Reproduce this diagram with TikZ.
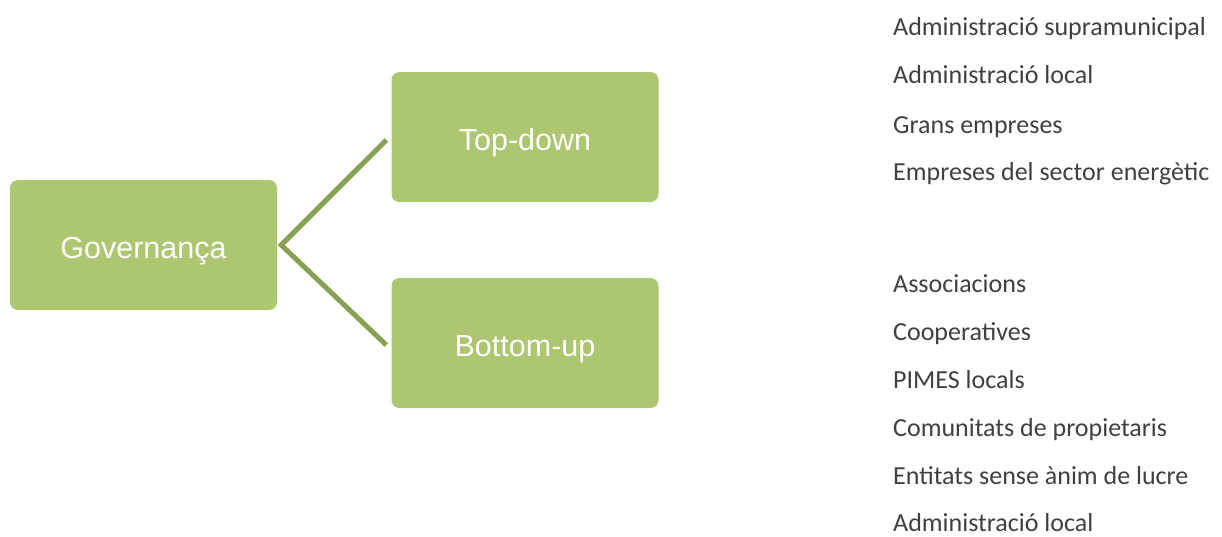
\documentclass[tikz,border=0pt]{standalone}
\usepackage{fontspec}
\setmainfont{Carlito}
\newfontfamily\boxfont{Liberation Sans}
\definecolor{boxgreen}{RGB}{173,198,112}
\definecolor{linegreen}{RGB}{136,160,84}
\definecolor{txtgray}{RGB}{64,64,64}
\newcommand{\boxtext}[1]{\raisebox{-6pt}[\height][\depth]{#1}}
\begin{document}
\begin{tikzpicture}[x=1pt,y=-1pt,
  gbox/.style={draw=none,fill=boxgreen,rounded corners=8pt,minimum width=267pt,minimum height=130pt,inner sep=0pt,text=white,font=\boxfont\fontsize{30.5}{36}\selectfont},
  conn/.style={draw=linegreen,line width=5pt,line join=miter},
  item/.style={anchor=base west,inner sep=0pt,text=txtgray,font=\fontsize{26}{30}\selectfont}]
\useasboundingbox (0,0) rectangle (1222,536);
\node[gbox] (g) at (143.5,245) {\boxtext{Governança}};
\node[gbox] (t) at (525,137) {\boxtext{Top-down}};
\node[gbox] (b) at (525,343) {\boxtext{Bottom-up}};
\draw[conn] ([xshift=-5pt,yshift=-3pt]t.west) -- ([xshift=4pt]g.east) -- ([xshift=-5pt,yshift=-2pt]b.west);
\node[item] (t1) at (893,35) {Administració supramunicipal};
\node[item] (t2) at (893,83) {Administració local};
\node[item] (t3) at (893,133) {Grans empreses};
\node[item] (t4) at (893,180) {Empreses del sector energètic};
\node[item] (b1) at (893,292) {Associacions};
\node[item] (b2) at (893,340) {Cooperatives};
\node[item] (b3) at (893,388) {PIMES locals};
\node[item] (b4) at (893,436) {Comunitats de propietaris};
\node[item] (b5) at (893,484) {Entitats sense ànim de lucre};
\node[item] (b6) at (893,531) {Administració local};
\end{tikzpicture}
\end{document}
